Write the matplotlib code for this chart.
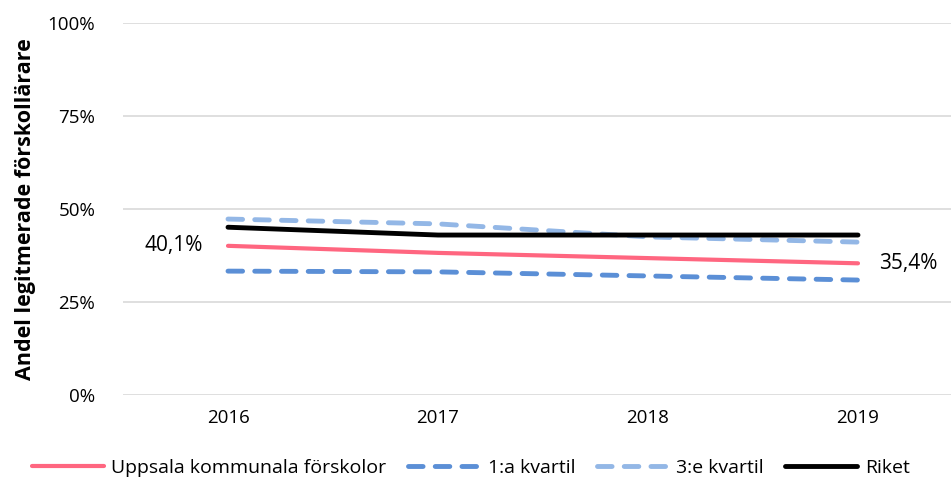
import matplotlib.pyplot as plt
from matplotlib.ticker import FuncFormatter

plt.rcParams['font.family'] = ['Open Sans', 'DejaVu Sans']

years = ['2016', '2017', '2018', '2019']
uppsala = [40.1, 38.2, 36.8, 35.4]
kvartil1 = [33.3, 33.1, 32.0, 30.9]
kvartil3 = [47.3, 46.0, 42.5, 41.1]
riket = [45.1, 43.0, 43.0, 43.0]

fig = plt.figure(figsize=(9.51, 4.82), dpi=100)
ax = fig.add_axes([123 / 951, 87 / 482, 840 / 951, 372 / 482])

x = range(len(years))
ax.plot(x, uppsala, color='#ff6680', lw=3, label='Uppsala kommunala förskolor', solid_capstyle='round')
ax.plot(x, kvartil1, color='#5b8fd6', lw=3.5, ls=(0, (3, 2.5)), dash_capstyle='round', label='1:a kvartil')
ax.plot(x, kvartil3, color='#93b7e6', lw=3.5, ls=(0, (3, 2.5)), dash_capstyle='round', label='3:e kvartil')
ax.plot(x, riket, color='black', lw=3.5, label='Riket', solid_capstyle='round')

ax.text(-0.12, uppsala[0], '40,1%', ha='right', va='center', fontsize=15)
ax.text(3.1, uppsala[-1], '35,4%', ha='left', va='center', fontsize=15)

ax.set_xlim(-0.5, 3.5)
ax.set_ylim(0, 100)
ax.set_yticks([0, 25, 50, 75, 100])
ax.yaxis.set_major_formatter(FuncFormatter(lambda v, p: f'{v:.0f}%'))
ax.set_xticks(list(x))
ax.set_xticklabels(years)
ax.tick_params(length=0, labelsize=13.5, colors='black')
ax.tick_params(axis='y', pad=20)
ax.tick_params(axis='x', pad=10)
ax.grid(axis='y', color='#d9d9d9', lw=1.2)
ax.set_axisbelow(True)
for s in ax.spines.values():
    s.set_visible(False)
ax.set_ylabel('Andel legitmerade förskollärare', fontsize=15.5, fontweight='bold', labelpad=8)

fig.legend(loc='lower center', bbox_to_anchor=(0.495, -0.025), ncol=4, frameon=False,
           fontsize=14, handlelength=3.7, columnspacing=1.1, handletextpad=0.4)

fig.savefig('out.png', dpi=100)
